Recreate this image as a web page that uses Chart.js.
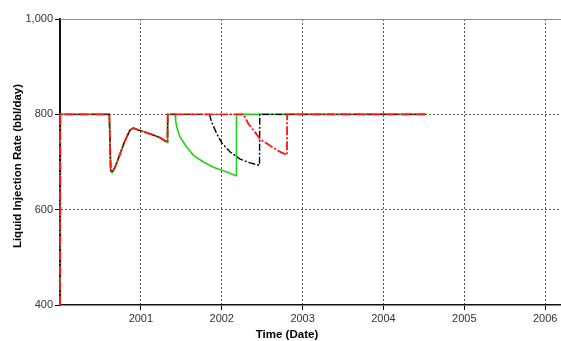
<!DOCTYPE html>
<html>
<head>
<meta charset="utf-8">
<script src="https://cdn.jsdelivr.net/npm/chart.js@4.4.1/dist/chart.umd.min.js"></script>
<style>
html,body{margin:0;padding:0;background:#fff;}
#wrap{width:561px;height:341px;position:relative;}
</style>
</head>
<body>
<div id="wrap"><canvas id="c"></canvas></div>
<script>
// Shared history (all cases identical up to the return to 800 in 2001)
const commonTimes = [2000.000, 2000.004, 2000.610, 2000.627, 2000.644, 2000.681, 2000.743, 2000.804, 2000.866, 2000.907, 2000.990, 2001.114, 2001.238, 2001.328, 2001.332];
const commonRates = [400, 800, 800, 682, 678, 689, 717, 745, 767, 771, 766, 759, 751, 741, 800];

// Green case (solid)
const greenTimes = [2001.423, 2001.430, 2001.444, 2001.485, 2001.568, 2001.650, 2001.774, 2001.897, 2002.063, 2002.178, 2002.182, 2004.540];
const greenRates = [800, 786, 773, 752, 731, 714, 700, 689, 679, 671, 800, 800];

// Black case (dash-dot)
const blackTimes = [2001.848, 2001.877, 2001.939, 2002.001, 2002.104, 2002.228, 2002.351, 2002.467, 2002.470, 2004.540];
const blackRates = [800, 783, 759, 740, 721, 706, 698, 693, 800, 800];

// Red case (dash-dot)
const redTimes = [2002.269, 2002.330, 2002.413, 2002.475, 2002.599, 2002.723, 2002.806, 2002.809, 2004.540];
const redRates = [800, 780, 762, 748, 734, 721, 715, 800, 800];

const yearTicks = [2001, 2002, 2003, 2004, 2005, 2006];
const rateTicks = [400, 600, 800, 1000];

function pts(t1, v1, t2, v2) {
  const a = t1.map((t, i) => ({x: t, y: v1[i]}));
  return a.concat(t2.map((t, i) => ({x: t, y: v2[i]})));
}

const titlePlugin = {
  id: 'titles',
  afterDraw(chart) {
    const ctx = chart.ctx, ca = chart.chartArea;
    ctx.save();
    ctx.strokeStyle = '#8a8a8a';
    ctx.lineWidth = 1;
    ctx.beginPath();
    ctx.moveTo(ca.left, Math.round(ca.top) + 0.5);
    ctx.lineTo(561, Math.round(ca.top) + 0.5);
    ctx.stroke();
    ctx.fillStyle = '#000';
    ctx.font = 'bold 11.5px "Liberation Sans", Arial, sans-serif';
    ctx.textAlign = 'center';
    ctx.textBaseline = 'middle';
    ctx.fillText('Time (Date)', 287, 335);
    ctx.translate(18, 166);
    ctx.rotate(-Math.PI / 2);
    ctx.fillText('Liquid Injection Rate (bbl/day)', 0, 0);
    ctx.restore();
  }
};

new Chart(document.getElementById('c'), {
  type: 'scatter',
  data: {
    datasets: [
      {label: 'Red', data: pts(commonTimes, commonRates, redTimes, redRates), showLine: true, borderColor: '#ff1a1a', borderWidth: 1.9, borderDash: [9, 2, 2, 2], pointRadius: 0, clip: false},
      {label: 'Black', data: pts(commonTimes, commonRates, blackTimes, blackRates), showLine: true, borderColor: '#000000', borderWidth: 1.4, borderDash: [7, 2, 2, 2], pointRadius: 0, clip: false},
      {label: 'Green', data: pts(commonTimes, commonRates, greenTimes, greenRates), showLine: true, borderColor: '#1ed21e', borderWidth: 1.6, pointRadius: 0, clip: false}
    ]
  },
  options: {
    responsive: true,
    maintainAspectRatio: false,
    animation: false,
    layout: {padding: {top: 19, right: 0, left: 0, bottom: 0}},
    plugins: {legend: {display: false}, tooltip: {enabled: false}},
    scales: {
      x: {
        type: 'linear',
        min: 2000.0,
        max: 2006.195,
        afterBuildTicks(s) { s.ticks = yearTicks.map(v => ({value: v})); },
        afterFit(s) { s.height = 36; },
        ticks: {
          callback: v => String(v),
          color: '#333',
          font: {family: '"Liberation Sans", Arial, sans-serif', size: 11},
          padding: 2,
          maxRotation: 0,
          autoSkip: false
        },
        grid: {color: '#555', lineWidth: 1, tickColor: '#000', tickLength: 5, tickBorderDash: [], tickWidth: 1},
        border: {display: true, color: '#111', width: 1.6, dash: [2, 2]}
      },
      y: {
        min: 400,
        max: 1000,
        afterBuildTicks(s) { s.ticks = rateTicks.map(v => ({value: v})); },
        afterFit(s) { s.width = 60; },
        ticks: {
          callback: v => v.toLocaleString('en-US'),
          color: '#333',
          font: {family: '"Liberation Sans", Arial, sans-serif', size: 11},
          padding: 2
        },
        grid: {
          color: c => (c.tick && (c.tick.value === 400 || c.tick.value === 1000)) ? 'rgba(0,0,0,0)' : '#555',
          lineWidth: 1, tickColor: '#000', tickLength: 5, tickBorderDash: [], tickWidth: 1
        },
        border: {display: true, color: '#111', width: 2, dash: [2, 2]}
      }
    }
  },
  plugins: [titlePlugin]
});
</script>
</body>
</html>
